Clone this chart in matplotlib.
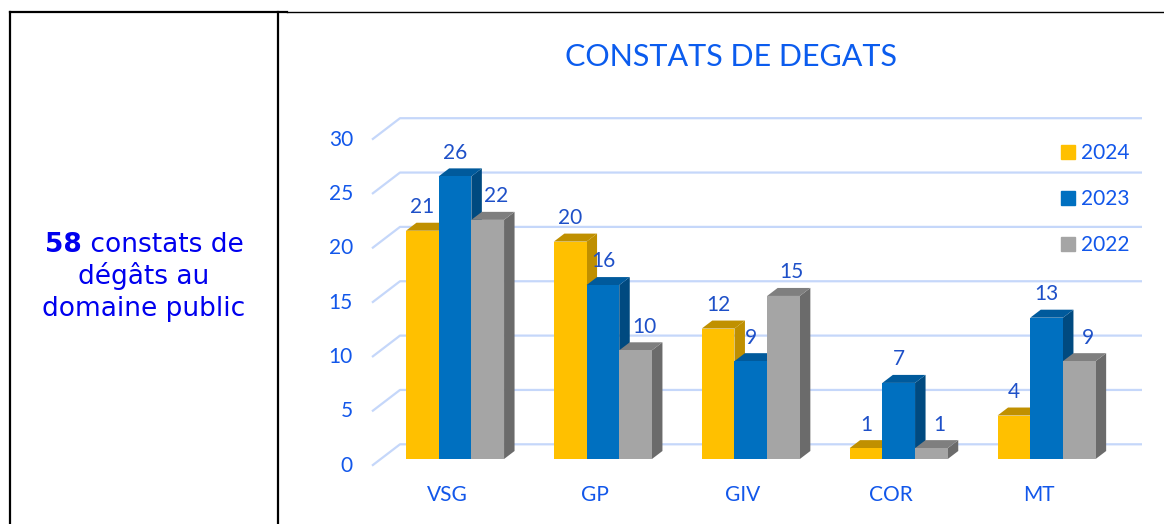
import matplotlib
matplotlib.use("Agg")
import matplotlib.pyplot as plt
from matplotlib.patches import Polygon, Patch
from matplotlib.lines import Line2D

# data
categories = ["VSG", "GP", "GIV", "COR", "MT"]
years = ["2024", "2023", "2022"]
v2024 = [21, 20, 12, 1, 4]
v2023 = [26, 16, 9, 7, 13]
v2022 = [22, 10, 15, 1, 9]
yticks = [0, 5, 10, 15, 20, 25, 30]

front_cols = ["#FFC000", "#0070C0", "#A5A5A5"]
top_cols = ["#C09000", "#005A9C", "#7F7F7F"]
side_cols = ["#BF8F00", "#004A80", "#6B6B6B"]
grid_col = "#C5D7FA"
txt_blue = "#1257EA"
val_blue = "#1E50C8"

W, H = 1164, 524
fig = plt.figure(figsize=(W / 100, H / 100), dpi=100)

# pixel geometry of the chart (x0 = centre of first group, y0 = bar floor)
x0, sx = 455.0, 147.9
y0, sy = 459.0, 10.87
ax_l, ax_r, ax_t, ax_b = 300, 1160, 100, 524
ax = fig.add_axes([ax_l / W, 1 - ax_b / H, (ax_r - ax_l) / W, (ax_b - ax_t) / H])
ax.set_xlim((ax_l - x0) / sx, (ax_r - x0) / sx)
ax.set_ylim((y0 - ax_b) / sy, (y0 - ax_t) / sy)
ax.axis("off")

def px_x(p):
    return (p - x0) / sx

def px_y(p):
    return (y0 - p) / sy

# 3d-ish gridlines: diagonal on the left wall then along the back wall
back_off = px_y(444.3)
front_off = px_y(465.7)
for v in yticks:
    ax.plot([px_x(372), px_x(400), px_x(1142)],
            [v + front_off, v + back_off, v + back_off],
            color=grid_col, lw=1.6, zorder=1, solid_capstyle="butt")
    ax.text(px_x(353), v + front_off, str(v), ha="right", va="center",
            fontsize=15, color=txt_blue, family="Lato")

bw = 32.7 / sx
dx = 10.5 / sx
dy = 8.0 / sy
series = [v2024, v2023, v2022]
lab_dx = [0, 0, 6]  # 2022 labels sit a bit to the right in the original
for i, cat in enumerate(categories):
    for k, vals in enumerate(series):
        xc = i + (k - 1) * bw
        h = vals[i]
        xl = xc - bw / 2
        z = 3 + k
        ax.add_patch(Polygon([(xl + bw, 0), (xl + bw + dx, dy), (xl + bw + dx, h + dy), (xl + bw, h)],
                             closed=True, fc=side_cols[k], ec="none", zorder=z))
        ax.add_patch(Polygon([(xl, h), (xl + bw, h), (xl + bw + dx, h + dy), (xl + dx, h + dy)],
                             closed=True, fc=top_cols[k], ec="none", zorder=z))
        ax.bar(xc, h, width=bw, color=front_cols[k], zorder=z)
        ax.annotate(str(h), (xc, h), xytext=(lab_dx[k], 17), textcoords="offset points",
                    ha="center", va="center", fontsize=15, color=val_blue,
                    family="Lato", zorder=10)
    ax.text(i - 8 / sx, px_y(495), cat, ha="center", va="center",
            fontsize=15, color=txt_blue, family="Lato")

handles = [Patch(color=c) for c in front_cols]
leg = ax.legend(handles, years, loc="upper left", frameon=False,
                bbox_to_anchor=((1061 - ax_l) / (ax_r - ax_l), (ax_b - 143) / (ax_b - ax_t)),
                prop={"family": "Lato", "size": 15}, labelcolor=txt_blue,
                handlelength=0.67, handleheight=0.67, handletextpad=0.3,
                labelspacing=1.25, borderpad=0, borderaxespad=0)

fig.text(731 / W, 1 - 57 / H, "CONSTATS DE DEGATS", ha="center", va="center",
         fontsize=22, color="#0B5CEE", family="Lato")

# table borders
lk = dict(color="black", transform=fig.transFigure)
fig.add_artist(Line2D([10 / W, 287 / W], [1 - 12 / H, 1 - 12 / H], lw=1.6, **lk))
fig.add_artist(Line2D([287 / W, 1], [1 - 11.7 / H, 1 - 11.7 / H], lw=1.0, **lk))
fig.add_artist(Line2D([10 / W, 10 / W], [0, 1 - 12 / H], lw=1.6, **lk))
fig.add_artist(Line2D([278 / W, 278 / W], [0, 1 - 12 / H], lw=1.6, **lk))

# left cell text, first line mixed bold / regular
lblue = "#0000EE"
fs = 19
r = fig.canvas.get_renderer()
t1 = fig.text(0, 0, "58", fontsize=fs, weight="bold", color=lblue, family="DejaVu Sans")
t2 = fig.text(0, 0, " constats de", fontsize=fs, color=lblue, family="DejaVu Sans")
w1 = t1.get_window_extent(r).width
w2 = t2.get_window_extent(r).width
xs = 144 - (w1 + w2) / 2 + w1
t1.set_position((xs / W, 1 - 251.7 / H))
t1.set_ha("right")
t1.set_va("baseline")
t2.set_position((xs / W, 1 - 251.7 / H))
t2.set_ha("left")
t2.set_va("baseline")
fig.text(144 / W, 1 - 283.5 / H, "dégâts au", fontsize=fs, color=lblue,
         family="DejaVu Sans", ha="center", va="baseline")
fig.text(144 / W, 1 - 315.5 / H, "domaine public", fontsize=fs, color=lblue,
         family="DejaVu Sans", ha="center", va="baseline")

fig.savefig("out.png", dpi=100)
